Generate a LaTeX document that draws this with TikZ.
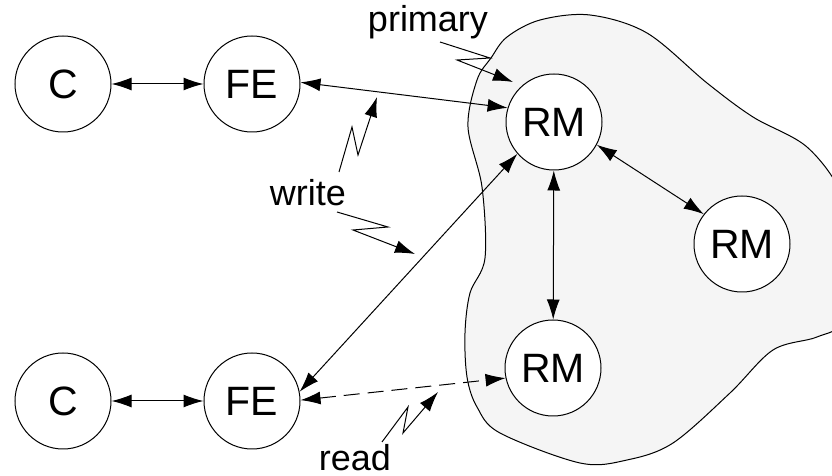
\documentclass[tikz,border=0pt]{standalone}
\usepackage{fontspec}
\setmainfont{Liberation Sans}
\usetikzlibrary{arrows.meta}
\definecolor{blobfill}{HTML}{F5F5F5}
\tikzset{
  proc/.style={circle,draw,line width=0.5pt,fill=white,minimum size=48pt,inner sep=0pt,font=\fontsize{20.5}{24}\selectfont},
  lbl/.style={inner sep=0pt,font=\fontsize{18}{22}\selectfont},
  conn/.style={line width=0.5pt,{Latex[length=10pt,width=6.5pt]}-{Latex[length=10pt,width=6.5pt]}},
  bolt/.style={line width=0.5pt,-{Latex[length=10pt,width=6.5pt]}},
}
\begin{document}
\begin{tikzpicture}[x=0.5pt,y=-0.5pt]
\useasboundingbox (0,0) rectangle (832,476);
% replica group region
\draw[line width=0.5pt,fill=blobfill] plot[smooth cycle,tension=0.55] coordinates {
 (491,58) (477,80) (468,127) (482,187) (485,258) (470,293) (465,333) (467,377)
 (477,407) (500,433) (580,463) (627,460) (673,443) (730,393) (773,350) (817,337)
 (842,320) (848,250) (842,195) (807,147) (753,117) (707,83) (647,33) (590,15)
 (540,20) (507,37)};
% nodes
\node[proc] (c1) at (63,84) {C};
\node[proc] (fe1) at (252,84) {FE};
\node[proc] (c2) at (63,401) {C};
\node[proc] (fe2) at (252,401) {FE};
\node[proc] (rm1) at (554,122) {RM};
\node[proc] (rm2) at (742,244) {RM};
\node[proc] (rm3) at (553,368) {RM};
% labels
\node[lbl] (primary) at (428,22) {primary};
\node[lbl] (write) at (308,193) {write};
\node[lbl] (read) at (355,458) {read};
% connectors
\draw[conn] (c1) -- (fe1);
\draw[conn] (c2) -- (fe2);
\draw[conn] (fe1.2) -- (rm1.163);
\draw[conn] (fe2.11) -- (rm1.221);
\draw[conn] (rm1) -- (rm3);
\draw[conn] (rm1.-28) -- (rm2.142);
\draw[conn,dash pattern=on 8pt off 4pt] (fe2.1) -- (rm3.192);
% lightning annotations
\coordinate (p0) at (440,42);
\coordinate (w0) at (339,172);
\coordinate (w1) at (337,212);
\coordinate (r0) at (382,442);
\coordinate (pt) at (513,82);
\coordinate (wt1) at (377,97);
\coordinate (wt2) at (415,254);
\coordinate (rt) at (438,392);
\draw[bolt] (p0) -- (490,58) -- (457,60) -- (pt);
\draw[bolt] (w0) -- (352,127) -- (358,155) -- (wt1);
\draw[bolt] (w1) -- (388,227) -- (353,230) -- (wt2);
\draw[bolt] (r0) -- (408,407) -- (403,433) -- (rt);
\end{tikzpicture}
\end{document}
